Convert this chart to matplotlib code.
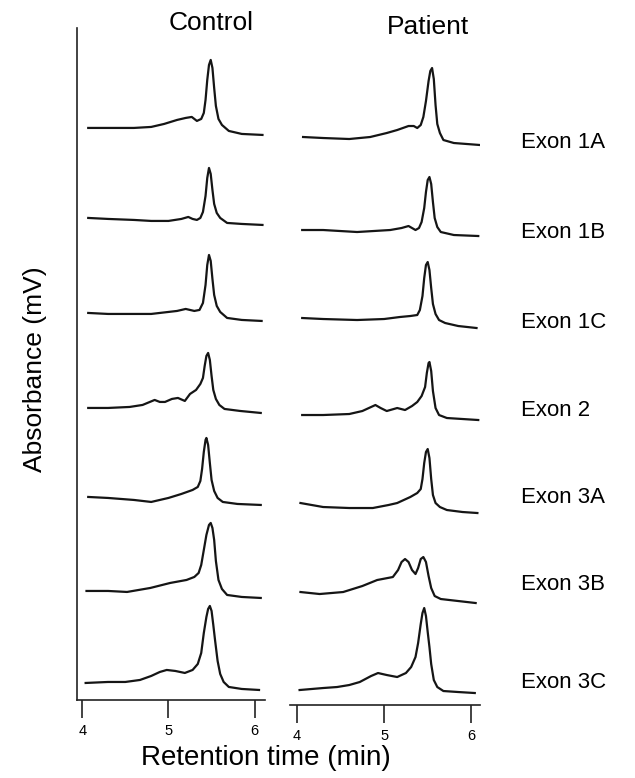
import matplotlib.pyplot as plt

# ------------------------------------------------------------
# Data (time in min, signal in mV,
# signal measured from each trace's own starting baseline)
# ------------------------------------------------------------
exons = ["Exon 1A", "Exon 1B", "Exon 1C", "Exon 2", "Exon 3A", "Exon 3B", "Exon 3C"]
ticks = [4, 5, 6]

# Control traces
ctrl_1a_t = [4.07, 4.3, 4.6, 4.8, 4.95, 5.1, 5.2, 5.27, 5.33, 5.38, 5.41, 5.43, 5.45, 5.47,
             5.49, 5.51, 5.53, 5.55, 5.58, 5.62, 5.7, 5.85, 6.09]
ctrl_1a_y = [0, 0, 0, 1, 4, 8, 10, 11, 7, 9, 15, 28, 48, 63, 68, 60, 40, 22, 9, 3, -3, -6, -7]

ctrl_1b_t = [4.07, 4.3, 4.6, 4.8, 5.0, 5.15, 5.23, 5.28, 5.33, 5.37, 5.40, 5.43, 5.45, 5.47,
             5.49, 5.51, 5.53, 5.56, 5.6, 5.68, 5.85, 6.09]
ctrl_1b_y = [0, -1, -2, -3, -3, -1, 1, -1, -2, 0, 6, 22, 40, 50, 44, 28, 14, 5, 0, -5, -6, -7]

ctrl_1c_t = [4.07, 4.3, 4.6, 4.8, 5.0, 5.1, 5.2, 5.3, 5.36, 5.40, 5.43, 5.45, 5.47, 5.49,
             5.51, 5.53, 5.56, 5.6, 5.68, 5.85, 6.08]
ctrl_1c_y = [0, -1, -1, -1, 1, 2, 4, 2, 3, 10, 28, 48, 58, 52, 34, 18, 7, 1, -5, -7, -8]

ctrl_2_t = [4.07, 4.3, 4.55, 4.7, 4.84, 4.9, 4.96, 5.04, 5.11, 5.19, 5.25, 5.32, 5.37, 5.40,
            5.42, 5.44, 5.46, 5.48, 5.50, 5.52, 5.55, 5.59, 5.65, 5.83, 6.07]
ctrl_2_y = [0, 0, 1, 3, 8, 6, 6, 9, 10, 7, 14, 18, 24, 30, 42, 52, 55, 48, 32, 18, 9, 3, -1,
            -3, -5]

ctrl_3a_t = [4.07, 4.3, 4.6, 4.8, 5.0, 5.15, 5.28, 5.34, 5.37, 5.39, 5.41, 5.43, 5.44, 5.46,
             5.48, 5.50, 5.53, 5.57, 5.63, 5.8, 6.07]
ctrl_3a_y = [0, -1, -3, -5, -1, 3, 7, 10, 16, 28, 45, 57, 59, 52, 34, 17, 6, -1, -5, -7, -8]

ctrl_3b_t = [4.05, 4.3, 4.52, 4.79, 5.02, 5.21, 5.30, 5.35, 5.38, 5.41, 5.44, 5.47, 5.49,
             5.51, 5.53, 5.55, 5.58, 5.62, 5.68, 5.85, 6.07]
ctrl_3b_y = [0, 0, -1, 3, 8, 11, 14, 18, 26, 41, 56, 66, 68, 63, 51, 30, 11, 2, -4, -6, -7]

ctrl_3c_t = [4.04, 4.3, 4.5, 4.67, 4.8, 4.9, 4.98, 5.08, 5.19, 5.28, 5.34, 5.38, 5.41, 5.44,
             5.46, 5.48, 5.50, 5.52, 5.54, 5.57, 5.60, 5.64, 5.70, 5.85, 6.05]
ctrl_3c_y = [0, 1, 1, 3, 7, 11, 13, 12, 10, 13, 19, 30, 50, 66, 74, 77, 72, 58, 43, 22, 9, 1,
             -4, -6, -7]

# Patient traces
pat_1a_t = [4.07, 4.3, 4.6, 4.84, 5.03, 5.15, 5.28, 5.34, 5.38, 5.42, 5.45, 5.48, 5.51, 5.53,
            5.55, 5.57, 5.59, 5.61, 5.64, 5.68, 5.8, 5.95, 6.10]
pat_1a_y = [0, -1, -2, 0, 4, 7, 11, 11, 9, 12, 20, 36, 56, 66, 69, 58, 32, 13, 4, -3, -6, -7,
            -8]

pat_1b_t = [4.06, 4.3, 4.69, 5.07, 5.2, 5.28, 5.36, 5.40, 5.43, 5.46, 5.48, 5.50, 5.52, 5.54,
            5.56, 5.58, 5.61, 5.65, 5.8, 6.08]
pat_1b_y = [0, 0, -2, 0, 2, 4, 0, 2, 8, 22, 38, 50, 53, 46, 28, 12, 3, -2, -5, -6]

pat_1c_t = [4.06, 4.3, 4.69, 5.0, 5.18, 5.30, 5.38, 5.41, 5.44, 5.46, 5.48, 5.50, 5.52, 5.54,
            5.56, 5.59, 5.63, 5.7, 5.85, 6.06]
pat_1c_y = [0, -1, -2, -1, 1, 2, 3, 8, 22, 40, 53, 56, 48, 30, 14, 4, -2, -5, -8, -10]

pat_2_t = [4.06, 4.3, 4.6, 4.75, 4.90, 4.96, 5.03, 5.15, 5.24, 5.32, 5.38, 5.43, 5.47, 5.49,
           5.51, 5.52, 5.54, 5.56, 5.59, 5.63, 5.72, 5.9, 6.08]
pat_2_y = [0, 0, 1, 4, 10, 7, 4, 7, 5, 9, 13, 19, 28, 42, 52, 53, 44, 24, 7, 0, -3, -4, -5]

pat_3a_t = [4.04, 4.3, 4.6, 4.87, 5.05, 5.15, 5.30, 5.38, 5.42, 5.44, 5.46, 5.48, 5.50, 5.52,
            5.54, 5.56, 5.59, 5.64, 5.72, 5.9, 6.07]
pat_3a_y = [0, -4, -5, -5, -2, 0, 6, 10, 14, 24, 40, 51, 54, 45, 24, 8, 0, -4, -7, -9, -10]

pat_3b_t = [4.04, 4.26, 4.53, 4.75, 4.92, 5.10, 5.16, 5.20, 5.24, 5.28, 5.32, 5.36, 5.39, 5.42,
            5.45, 5.48, 5.51, 5.54, 5.58, 5.65, 5.85, 6.05]
pat_3b_y = [0, -2, 0, 6, 12, 15, 22, 30, 33, 30, 22, 18, 24, 33, 35, 30, 16, 4, -4, -7, -9, -11]

pat_3c_t = [4.03, 4.3, 4.46, 4.6, 4.72, 4.85, 4.93, 5.03, 5.15, 5.25, 5.31, 5.36, 5.39, 5.42,
            5.44, 5.46, 5.48, 5.50, 5.52, 5.54, 5.57, 5.61, 5.68, 5.85, 6.04]
pat_3c_y = [0, 2, 3, 5, 8, 14, 17, 15, 13, 17, 23, 33, 47, 66, 77, 82, 74, 58, 43, 26, 10, 3, -1,
            -2, -3]

ctrl_traces = [(ctrl_1a_t, ctrl_1a_y), (ctrl_1b_t, ctrl_1b_y), (ctrl_1c_t, ctrl_1c_y),
               (ctrl_2_t, ctrl_2_y), (ctrl_3a_t, ctrl_3a_y), (ctrl_3b_t, ctrl_3b_y),
               (ctrl_3c_t, ctrl_3c_y)]
pat_traces = [(pat_1a_t, pat_1a_y), (pat_1b_t, pat_1b_y), (pat_1c_t, pat_1c_y),
              (pat_2_t, pat_2_y), (pat_3a_t, pat_3a_y), (pat_3b_t, pat_3b_y),
              (pat_3c_t, pat_3c_y)]

# vertical stacking offsets of each trace (mV)
ctrl_offsets = [572, 482, 387, 292, 203, 109, 17]
pat_offsets = [568, 475, 387, 290, 202, 113, 15]

plt.rcParams['font.family'] = ['Liberation Sans', 'DejaVu Sans']

fig = plt.figure(figsize=(6.35, 7.78), dpi=100)
ax_c = fig.add_axes([0.1213, 0.1003, 0.2961, 0.8638])
ax_p = fig.add_axes([0.4567, 0.0938, 0.2992, 0.8702])


def style_axis(ax, xlim, ylim, show_left):
    ax.set_xlim(*xlim)
    ax.set_ylim(*ylim)
    ax.set_xticks(ticks)
    ax.set_xticklabels([str(t) for t in ticks], fontsize=10.5)
    ax.set_yticks([])
    ax.tick_params(axis='x', direction='out', length=13, width=1.2, pad=4, color='#222222')
    for side in ['top', 'right']:
        ax.spines[side].set_visible(False)
    ax.spines['left'].set_visible(show_left)
    for side in ['left', 'bottom']:
        ax.spines[side].set_linewidth(1.2)
        ax.spines[side].set_color('#222222')
    ax.patch.set_alpha(0)


for (t, y), off in zip(ctrl_traces, ctrl_offsets):
    ax_c.plot(t, [v + off for v in y], color='#151515', lw=1.6, solid_joinstyle='round')
for (t, y), off in zip(pat_traces, pat_offsets):
    ax_p.plot(t, [v + off for v in y], color='#151515', lw=1.6, solid_joinstyle='round')

style_axis(ax_c, (3.94, 6.12), (0, 672), True)
style_axis(ax_p, (3.92, 6.10), (0, 677), False)

# titles and labels
fig.text(0.332, 0.970, "Control", fontsize=19, ha='center', va='center')
fig.text(0.674, 0.965, "Patient", fontsize=19, ha='center', va='center')
fig.text(0.055, 0.525, "Absorbance (mV)", fontsize=19, rotation=90, ha='center', va='center')
fig.text(0.418, 0.026, "Retention time (min)", fontsize=20, ha='center', va='center')

label_y_px = [143, 232, 323, 410, 497, 585, 683]
for name, ypx in zip(exons, label_y_px):
    fig.text(521 / 635, 1 - ypx / 778, name, fontsize=16, ha='left', va='center')

fig.savefig("out.png", dpi=100)
